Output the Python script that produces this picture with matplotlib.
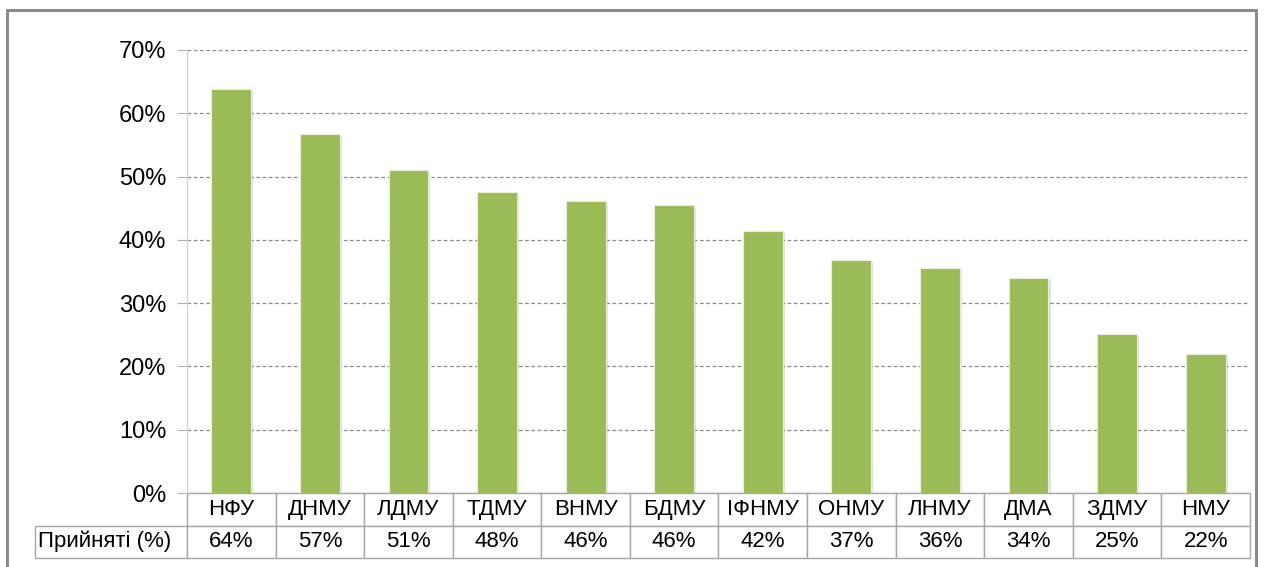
import numpy as np
import matplotlib.pyplot as plt
from matplotlib.patches import Rectangle
import matplotlib.patheffects as pe

plt.rcParams['font.family'] = ['Liberation Sans', 'DejaVu Sans']

# data -------------------------------------------------------
universities = ["НФУ", "ДНМУ", "ЛДМУ", "ТДМУ", "ВНМУ", "БДМУ",
                "ІФНМУ", "ОНМУ", "ЛНМУ", "ДМА", "ЗДМУ", "НМУ"]
accepted = [63.9, 56.7, 51.0, 47.5, 46.1, 45.5, 41.4, 36.8, 35.5, 34.0, 25.1, 21.9]
accepted_labels = ["64%", "57%", "51%", "48%", "46%", "46%",
                   "42%", "37%", "36%", "34%", "25%", "22%"]
row_label = "Прийняті (%)"
yticks = [0, 10, 20, 30, 40, 50, 60, 70]

W, H = 1264, 567
fig = plt.figure(figsize=(W / 100, H / 100), dpi=100)

# outer frame
fig.patches.append(Rectangle((7 / W, -0.05), 1249 / W, 1 - 10 / H + 0.05,
                             transform=fig.transFigure, fill=False,
                             edgecolor='#8c8c8c', linewidth=2.2))

ax_l, ax_r, ax_t, ax_b = 187, 1250, 50, 493
ax = fig.add_axes([ax_l / W, 1 - ax_b / H, (ax_r - ax_l) / W, (ax_b - ax_t) / H])

x = np.arange(len(universities))
bars = ax.bar(x, accepted, width=0.45, color='#9BBB59', edgecolor='#e8efd8',
              linewidth=0.8, zorder=3)
for b in bars:
    b.set_path_effects([pe.SimplePatchShadow(offset=(1.5, -1.5), alpha=0.25, shadow_rgbFace='#888888'),
                        pe.Normal()])

ax.set_xlim(-0.5, len(universities) - 0.5)
ax.set_ylim(0, 70)
ax.set_yticks(yticks)
ax.set_yticklabels([f"{v}%" for v in yticks], fontsize=17)
ax.set_xticks([])
ax.yaxis.grid(True, linestyle=(0, (3, 2)), color='#8a8a8a', linewidth=0.9, zorder=0)
ax.tick_params(axis='y', length=7, color='#b0b0b0', pad=8, width=0.8)
for s in ['top', 'right', 'bottom']:
    ax.spines[s].set_visible(False)
ax.spines['left'].set_color('#d0d0d0')

# table under the axis
cells = [[""] + universities, [row_label] + accepted_labels]
lab_w = (187 - 35) / (ax_r - ax_l)
col_w = 1.0 / len(universities)
tab_h = (558 - 493) / (ax_b - ax_t)
tbl = ax.table(cellText=cells, colWidths=[lab_w] + [col_w] * len(universities),
               cellLoc='center', bbox=[-lab_w, -tab_h, 1 + lab_w, tab_h])
tbl.auto_set_font_size(False)
for (r, c), cell in tbl.get_celld().items():
    cell.set_edgecolor('#a6a6a6')
    cell.set_linewidth(1.0)
    cell.get_text().set_fontsize(16)
    if r == 0 and c == 0:
        cell.visible_edges = ''
    if c == 0 and r == 1:
        cell.get_text().set_ha('left')
        cell.PAD = 0.02

fig.savefig("out.png", dpi=100)
